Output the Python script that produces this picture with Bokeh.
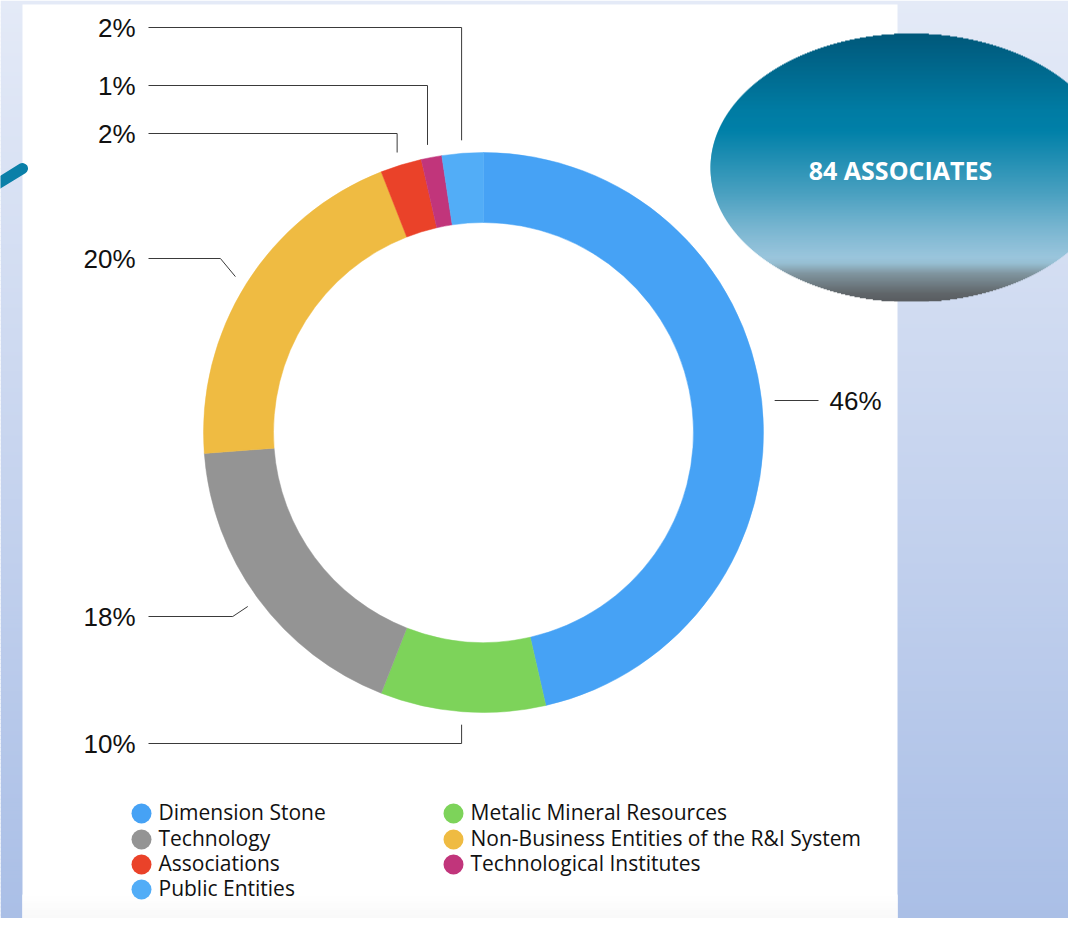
import math
from bokeh.plotting import figure
from bokeh.models import Range1d
from bokeh.core.properties import value
from bokeh.embed import file_html
from bokeh.resources import INLINE

# ---------------- data ----------------
categories = ["Dimension Stone", "Metalic Mineral Resources", "Technology",
              "Non-Business Entities of the R&I System", "Associations",
              "Technological Institutes", "Public Entities"]
counts = [39, 8, 15, 17, 2, 1, 2]
pct_labels = ["46%", "10%", "18%", "20%", "2%", "1%", "2%"]
colors = ["#46a2f5", "#7dd35a", "#949494", "#efbb42", "#ea4229", "#c1357b", "#52adf7"]
total_label = "84 ASSOCIATES"

# ---------------- layout helpers ----------------
W, H = 1084, 934
def Y(y):  # reference pixel row -> data y
    return H - y

p = figure(width=1068, height=918, x_range=Range1d(0, 1068), y_range=Range1d(Y(918), Y(0)),
           output_backend="svg", toolbar_location=None, x_axis_type=None, y_axis_type=None,
           min_border=0, outline_line_color=None)
p.grid.visible = False
p.background_fill_color = "white"
p.border_fill_color = "white"

def lerp(c1, c2, t):
    return tuple(int(round(a + (b - a) * t)) for a, b in zip(c1, c2))

def hexc(c):
    return "#%02x%02x%02x" % c

# background gradient
top_c, bot_c = (228, 234, 247), (169, 190, 230)
n = 234
bl, br, bt, bb, bc = [], [], [], [], []
for i in range(n):
    y0 = i * H / n
    y1 = (i + 1) * H / n
    bl.append(0); br.append(W); bt.append(Y(y0)); bb.append(Y(y1 + 1))
    bc.append(hexc(lerp(top_c, bot_c, (y0 + y1) / 2 / H)))
p.quad(left=bl, right=br, top=bt, bottom=bb, fill_color=bc, line_color=None)

# white panel
p.quad(left=[22], right=[897], top=[Y(4)], bottom=[Y(934)], fill_color="white", line_color=None)
pl, pr, pt, pb, pc = [], [], [], [], []
for i in range(40):
    y0 = 894 + i
    pl.append(22); pr.append(897); pt.append(Y(y0)); pb.append(Y(y0 + 1.8))
    pc.append(hexc(lerp((255, 255, 255), (244, 244, 244), i / 39)))
p.quad(left=pl, right=pr, top=pt, bottom=pb, fill_color=pc, line_color=None)

# decorative teal stroke at left
p.line(x=[-4, 22], y=[Y(184), Y(168)], line_color="#0a7fa8", line_width=11, line_cap="round")

# ---------------- donut ----------------
cx, cy = 483, Y(432)
r_out, r_in = 280, 210
tot = sum(counts)
cum = 0
starts, ends, mids = [], [], []
for c in counts:
    a0 = math.pi / 2 - 2 * math.pi * cum / tot
    a1 = math.pi / 2 - 2 * math.pi * (cum + c) / tot
    starts.append(a0); ends.append(a1)
    mids.append(2 * math.pi * (cum + c / 2) / tot)
    cum += c
p.annular_wedge(x=[cx] * len(counts), y=[cy] * len(counts), inner_radius=r_in, outer_radius=r_out,
                start_angle=starts, end_angle=ends, direction="clock",
                fill_color=colors, line_color=colors, line_width=0.5)

# leader lines and labels
r_anc = 293
label_y = [400, 743, 616, 258, 133, 85, 27]   # reference rows of labels
route = ["right", "bottom", "diag", "diag", "top", "top", "top"]
anchor_x_override = [None, None, None, None, None, 427, None]
xs, ys = [], []
lab_x, lab_y, lab_t, lab_align = [], [], [], []
for i, m in enumerate(mids):
    ax = cx + r_anc * math.sin(m)
    ay = cy + r_anc * math.cos(m)
    if anchor_x_override[i] is not None:
        ax = anchor_x_override[i]
        ay = cy + math.sqrt(r_anc ** 2 - (ax - cx) ** 2)
    ly = Y(label_y[i])
    if route[i] == "right":
        xs.append([ax, 818]); ys.append([ly, ly])
        lab_x.append(829); lab_y.append(ly); lab_align.append("left")
    elif route[i] == "bottom" or route[i] == "top":
        xs.append([ax, ax, 148]); ys.append([ay, ly, ly])
        lab_x.append(135); lab_y.append(ly); lab_align.append("right")
    else:
        xs.append([ax, ax - 15, 148]); ys.append([ay, ly, ly])
        lab_x.append(135); lab_y.append(ly); lab_align.append("right")
    lab_t.append(pct_labels[i])
p.multi_line(xs=xs, ys=ys, line_color="#3a3a3a", line_width=1)
for al in ("left", "right"):
    idx = [k for k in range(len(lab_t)) if lab_align[k] == al]
    p.text(x=[lab_x[k] for k in idx], y=[lab_y[k] for k in idx], text=[lab_t[k] for k in idx],
           text_font=value("Liberation Sans"), text_font_size=value("26px"),
           text_color="#111111", text_align=al, text_baseline="middle")

# ---------------- ellipse badge ----------------
ecx, ecy, ea, eb = 911, 167, 201, 134
stops = [(33, (0, 88, 122)), (110, (0, 124, 163)), (130, (0, 128, 168)), (193, (74, 160, 192)),
         (227, (120, 181, 208)), (257, (154, 197, 220)), (263, (150, 190, 210)),
         (273, (128, 149, 159)), (293, (96, 102, 106)), (301, (88, 92, 96))]
def grad(y):
    for (y0, c0), (y1, c1) in zip(stops[:-1], stops[1:]):
        if y0 <= y <= y1:
            return lerp(c0, c1, (y - y0) / (y1 - y0))
    return stops[-1][1]
el, er, et, ebb, ec = [], [], [], [], []
for yy in range(ecy - eb, ecy + eb):
    yc = yy + 0.5
    t = (yc - ecy) / eb
    if abs(t) >= 1:
        continue
    hw = ea * math.sqrt(1 - t * t)
    el.append(ecx - hw); er.append(ecx + hw); et.append(Y(yy)); ebb.append(Y(min(yy + 1.8, ecy + eb - 0.2)))
    ec.append(hexc(grad(yc)))
p.quad(left=el, right=er, top=et, bottom=ebb, fill_color=ec, line_color=None)
p.text(x=[900], y=[Y(169)], text=[total_label], text_font=value("Open Sans"),
       text_font_style="bold", text_font_size=value("25px"), text_color="white",
       text_align="center", text_baseline="middle")

# ---------------- legend ----------------
col_x = [141, 453]
row_y = [813, 839, 864, 889]
ord_ = [0, 2, 4, 6, 1, 3, 5]  # column-major placement of categories
lx, ly_, lt, lc = [], [], [], []
for pos, k in enumerate(ord_):
    col = 0 if pos < 4 else 1
    row = pos if pos < 4 else pos - 4
    lx.append(col_x[col]); ly_.append(Y(row_y[row])); lt.append(categories[k]); lc.append(colors[k])
p.scatter(x=lx, y=ly_, size=20, marker="circle", fill_color=lc, line_color=None)
p.text(x=[v + 17 for v in lx], y=[v + 2 for v in ly_], text=lt, text_font=value("Open Sans"),
       text_font_size=value("21px"), text_color="#111111", text_align="left", text_baseline="middle")

open("out.html", "w").write(file_html(p, INLINE))
